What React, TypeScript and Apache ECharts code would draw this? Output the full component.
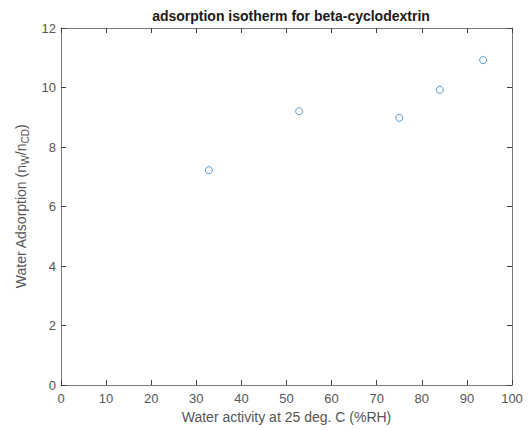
import React, { useEffect, useRef } from "react";
import * as echarts from "echarts";

const waterActivity = [32.8, 52.8, 75.0, 84.0, 93.6];
const waterAdsorption = [7.22, 9.2, 8.98, 9.92, 10.92];
const chartTitle = "adsorption isotherm for beta-cyclodextrin";
const xTitle = "Water activity at 25 deg. C (%RH)";

const axisColor = "#7a7a7a";
const tickColor = "#404040";
const labelColor = "#555555";
const font = "Liberation Sans, Arial, sans-serif";

function tick() {
  return { show: true, inside: true, length: 5, lineStyle: { color: tickColor, width: 1 } };
}
function line(onZero: boolean) {
  return { show: true, onZero, lineStyle: { color: axisColor, width: 1 } };
}

export default function App() {
  const ref = useRef<HTMLDivElement>(null);
  useEffect(() => {
    if (!ref.current) return;
    const chart = echarts.init(ref.current, null, { renderer: "svg" });
    chart.setOption({
      animation: false,
      backgroundColor: "#ffffff",
      title: {
        text: chartTitle,
        left: 286,
        top: 4,
        textAlign: "center",
        textStyle: { fontFamily: font, fontSize: 14, fontWeight: "bold", color: "#1a1a1a" },
      },
      grid: { left: 61, right: 16, top: 28, bottom: 45, containLabel: false },
      xAxis: [
        {
          type: "value",
          min: 0,
          max: 100,
          interval: 10,
          position: "bottom",
          axisLine: line(true),
          axisTick: tick(),
          splitLine: { show: false },
          axisLabel: { color: labelColor, fontFamily: font, fontSize: 13, margin: 7 },
          name: xTitle,
          nameLocation: "middle",
          nameGap: 22,
          nameTextStyle: { color: labelColor, fontFamily: font, fontSize: 14 },
        },
        {
          type: "value",
          min: 0,
          max: 100,
          interval: 10,
          position: "top",
          axisLine: line(false),
          axisTick: tick(),
          splitLine: { show: false },
          axisLabel: { show: false },
        },
      ],
      yAxis: [
        {
          type: "value",
          min: 0,
          max: 12,
          interval: 2,
          position: "left",
          axisLine: line(true),
          axisTick: tick(),
          splitLine: { show: false },
          axisLabel: { color: labelColor, fontFamily: font, fontSize: 13, margin: 5 },
          name: "Water Adsorption (n{sub|W}/n{sub|CD})",
          nameLocation: "middle",
          nameGap: 28,
          nameTextStyle: {
            color: labelColor,
            fontFamily: font,
            fontSize: 14,
            rich: {
              sub: { fontSize: 10, color: labelColor, fontFamily: font, padding: [9, 0, 0, 0] },
            },
          },
        },
        {
          type: "value",
          min: 0,
          max: 12,
          interval: 2,
          position: "right",
          axisLine: line(false),
          axisTick: tick(),
          splitLine: { show: false },
          axisLabel: { show: false },
        },
      ],
      series: [
        {
          type: "scatter",
          xAxisIndex: 0,
          yAxisIndex: 0,
          data: waterActivity.map((x, i) => [x, waterAdsorption[i]]),
          symbol: "circle",
          symbolSize: 7,
          itemStyle: { color: "#ffffff", borderColor: "#2f7fc1", borderWidth: 1 },
        },
        {
          type: "scatter",
          xAxisIndex: 1,
          yAxisIndex: 1,
          data: [[-10, -10]],
          symbolSize: 0,
          silent: true,
        },
      ],
    });
    return () => chart.dispose();
  }, []);
  return (
    <div
      ref={ref}
      style={{ position: "fixed", left: 0, top: 0, width: 528, height: 430, background: "#fff" }}
    />
  );
}
